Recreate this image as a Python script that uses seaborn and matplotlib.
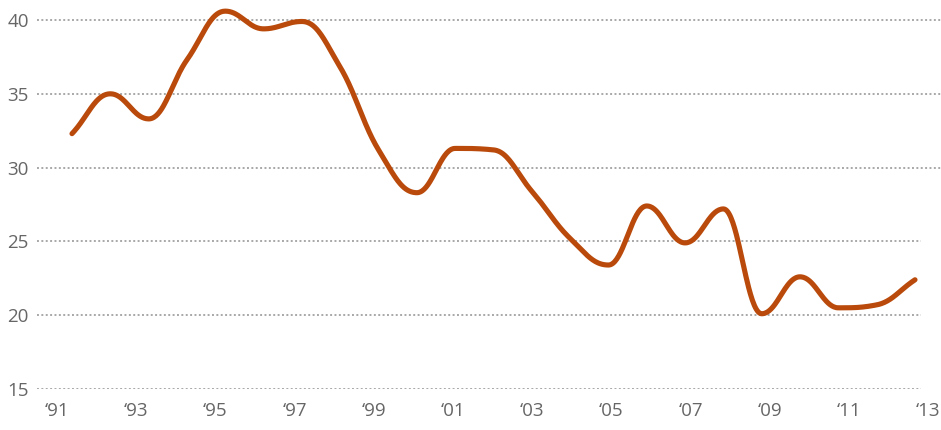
import numpy as np
import pandas as pd
import matplotlib
matplotlib.use("Agg")
import matplotlib.pyplot as plt
import seaborn as sns

# ---- data ----
years = [1991, 1992, 1993, 1994, 1995, 1996, 1997, 1998, 1999, 2000, 2001, 2002,
         2003, 2004, 2005, 2006, 2007, 2008, 2009, 2010, 2011, 2012, 2013]
values = [32.3, 35.0, 33.3, 37.3, 40.6, 39.4, 39.9, 36.8, 31.2, 28.3, 31.3, 31.2,
          28.4, 25.2, 23.4, 27.4, 24.9, 27.2, 20.1, 22.6, 20.5, 20.7, 22.4]
tick_years = [1991, 1993, 1995, 1997, 1999, 2001, 2003, 2005, 2007, 2009, 2011, 2013]
tick_labels = ["\u201891", "\u201893", "\u201895", "\u201897", "\u201899", "\u201801",
               "\u201803", "\u201805", "\u201807", "\u201809", "\u201811", "\u201813"]
y_ticks = [15, 20, 25, 30, 35, 40]

LINE_COLOR = "#B94A0B"
GRID_COLOR = "#a8a8a8"
TEXT_COLOR = "#666666"


def spline_path(x, y, per_seg=40, smoothing=1.5):
    """Render a 'spline' line (Bezier with horizontal tangents at extremes)."""
    x = np.asarray(x, float)
    y = np.asarray(y, float)
    n = len(x)
    d = smoothing + 1
    lc = [None] * n
    rc = [None] * n
    # end points: controls along the chord
    rc[0] = (x[0] + (x[1] - x[0]) / d, y[0] + (y[1] - y[0]) / d)
    lc[-1] = (x[-1] - (x[-1] - x[-2]) / d, y[-1] - (y[-1] - y[-2]) / d)
    for i in range(1, n - 1):
        px, py = x[i], y[i]
        lx0, ly0 = x[i - 1], y[i - 1]
        nx, ny = x[i + 1], y[i + 1]
        lcx = (smoothing * px + lx0) / d
        lcy = (smoothing * py + ly0) / d
        rcx = (smoothing * px + nx) / d
        rcy = (smoothing * py + ny) / d
        corr = ((rcy - lcy) * (rcx - px)) / (rcx - lcx) + py - rcy
        lcy += corr
        rcy += corr
        if lcy > ly0 and lcy > py:
            lcy = max(ly0, py)
            rcy = 2 * py - lcy
        elif lcy < ly0 and lcy < py:
            lcy = min(ly0, py)
            rcy = 2 * py - lcy
        if rcy > ny and rcy > py:
            rcy = max(ny, py)
            lcy = 2 * py - rcy
        elif rcy < ny and rcy < py:
            rcy = min(ny, py)
            lcy = 2 * py - rcy
        lc[i] = (lcx, lcy)
        rc[i] = (rcx, rcy)
    xs, ys = [], []
    for i in range(n - 1):
        u = np.linspace(0, 1, per_seg, endpoint=(i == n - 2))
        p0 = (x[i], y[i]); p1 = rc[i]; p2 = lc[i + 1]; p3 = (x[i + 1], y[i + 1])
        b0 = (1 - u) ** 3; b1 = 3 * (1 - u) ** 2 * u; b2 = 3 * (1 - u) * u ** 2; b3 = u ** 3
        xs.append(b0 * p0[0] + b1 * p1[0] + b2 * p2[0] + b3 * p3[0])
        ys.append(b0 * p0[1] + b1 * p1[1] + b2 * p2[1] + b3 * p3[1])
    return np.concatenate(xs), np.concatenate(ys)


sns.set_theme(style="white")
plt.rcParams["font.family"] = ["Open Sans", "DejaVu Sans"]

fig = plt.figure(figsize=(9.41, 4.30), dpi=100)
ax = fig.add_axes([37 / 941, 41 / 430, 1 - 37 / 941, 387 / 430])

cx, cy = spline_path(years, values)
df = pd.DataFrame({"year": cx, "value": cy})
sns.lineplot(data=df, x="year", y="value", ax=ax, color=LINE_COLOR, linewidth=3.7,
             sort=False, estimator=None, solid_capstyle="round", solid_joinstyle="round",
             zorder=3)

# axis ranges
px_per_year = 38.32
x0 = years[0] - 35 / px_per_year
x1 = years[-1] + 26 / px_per_year
ax.set_xlim(x0, x1)
ax.set_ylim(15, 15 + 387 / 14.76)

# dotted gridlines
for v in y_ticks:
    xmax = 1.0 if v >= 30 else (921 - 37) / (941 - 37)
    ax.axhline(v, xmin=0, xmax=xmax, color=GRID_COLOR, linewidth=1.4,
               linestyle=(0, (1, 1.25)), dash_capstyle="butt", zorder=1)

ax.set_yticks(y_ticks)
ax.set_yticklabels([str(v) for v in y_ticks])
tick_pos = [1990.61 + (yy - 1991) * 1.0334 for yy in tick_years]
ax.set_xticks(tick_pos)
ax.set_xticklabels(tick_labels)
ax.tick_params(axis="both", length=0, labelsize=13.5, colors=TEXT_COLOR)
ax.tick_params(axis="y", pad=6)
ax.tick_params(axis="x", pad=9)
for lab in ax.get_yticklabels() + ax.get_xticklabels():
    lab.set_color(TEXT_COLOR)

ax.set_xlabel("")
ax.set_ylabel("")
for sp in ax.spines.values():
    sp.set_visible(False)
ax.grid(False)

fig.savefig("out.png", dpi=100)
